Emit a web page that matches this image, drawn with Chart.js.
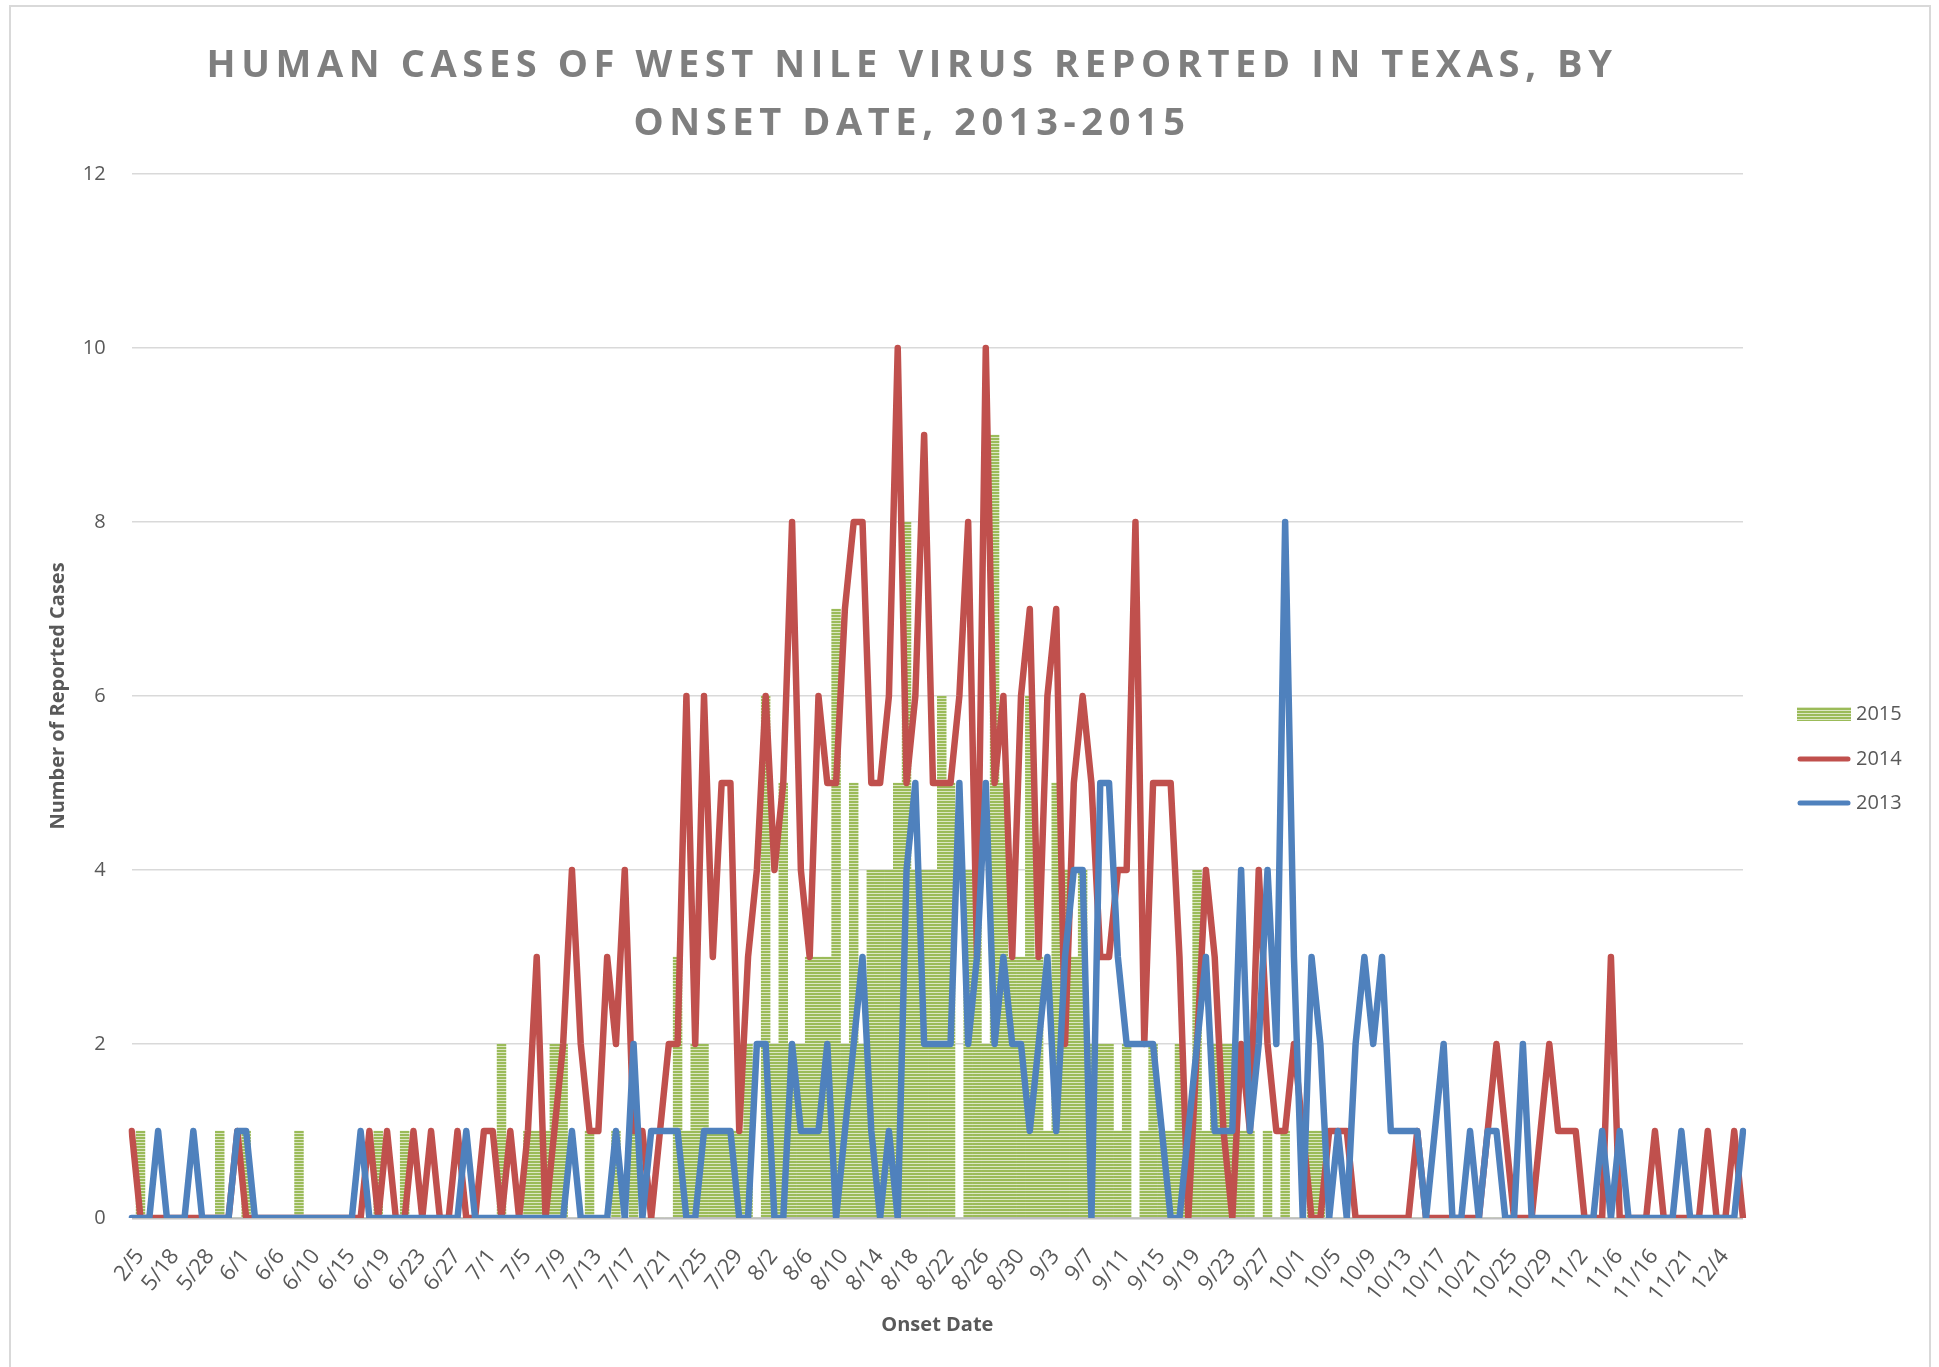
<!DOCTYPE html>
<html>
<head>
<meta charset="utf-8">
<script src="https://cdn.jsdelivr.net/npm/chart.js@4.4.1/dist/chart.umd.min.js"></script>
<style>
html,body{margin:0;padding:0;background:#fff;overflow:hidden;}
#wrap{position:relative;width:1939px;height:1367px;}
#frame{position:absolute;left:9px;top:5px;width:1922px;height:1420px;border:2px solid #d9d9d9;box-sizing:border-box;}
canvas{position:absolute;left:0;top:0;}
</style>
</head>
<body>
<div id="wrap"><div id="frame"></div><canvas id="chart" width="1939" height="1367"></canvas></div>
<script>
// ---------------- data ----------------
const categories = [
'2/5','4/22','5/6','5/12','5/18','5/20','5/23','5/26','5/28','5/29','5/30','5/31',
'6/1','6/2','6/3','6/5','6/6','6/7','6/8','6/9','6/10','6/11','6/12','6/14',
'6/15','6/16','6/17','6/18','6/19','6/20','6/21','6/22','6/23','6/24','6/25','6/26',
'6/27','6/28','6/29','6/30',
'7/1','7/2','7/3','7/4','7/5','7/6','7/7','7/8','7/9','7/10','7/11','7/12','7/13','7/14','7/15','7/16',
'7/17','7/18','7/19','7/20','7/21','7/22','7/23','7/24','7/25','7/26','7/27','7/28','7/29','7/30','7/31',
'8/1','8/2','8/3','8/4','8/5','8/6','8/7','8/8','8/9','8/10','8/11','8/12','8/13','8/14','8/15','8/16',
'8/17','8/18','8/19','8/20','8/21','8/22','8/23','8/24','8/25','8/26','8/27','8/28','8/29','8/30','8/31',
'9/1','9/2','9/3','9/4','9/5','9/6','9/7','9/8','9/9','9/10','9/11','9/12','9/13','9/14','9/15',
'9/16','9/17','9/18','9/19','9/20','9/21','9/22','9/23','9/24','9/25','9/26','9/27','9/28','9/29','9/30',
'10/1','10/2','10/3','10/4','10/5','10/6','10/7','10/8','10/9','10/10','10/11','10/12','10/13','10/14','10/15','10/16',
'10/17','10/18','10/19','10/20','10/21','10/22','10/23','10/24','10/25','10/26','10/27','10/28','10/29','10/30','10/31',
'11/1','11/2','11/3','11/4','11/5','11/6','11/8','11/11','11/13',
'11/16','11/17','11/18','11/20','11/21','11/24','11/27','12/1','12/4','12/8','12/12','12/17'
];
const tickEvery = 4;
const yTickValues = [0, 2, 4, 6, 8, 10, 12];
const seriesNames = ['2015', '2014', '2013'];

const cases2015 = [
0,1,0,0,0,0,0,0,0,0,
1,0,0,1,0,0,0,0,0,1,
0,0,0,0,0,0,0,0,1,0,
0,1,0,0,0,0,0,0,0,0,
0,0,2,0,0,1,1,1,2,2,
0,0,1,0,0,1,0,1,0,0,
0,0,3,1,2,2,1,1,1,1,
2,0,6,2,5,2,2,3,3,3,
7,2,5,2,4,4,4,5,8,4,
4,4,6,5,0,4,4,2,9,5,
3,3,6,3,1,5,4,3,4,2,
2,2,1,2,0,1,2,1,1,2,
1,4,1,2,2,2,1,1,0,1,
0,1,0,0,1,1,0,0,0,0,
0,0,0,0,0,0,0,0,0,0,
0,0,0,0,0,0,0,0,0,0,
0,0,0,0,0,0,0,0,0,0,
0,0,0,0,0,0,0,0,0,0,
0,0,0,0
];
const cases2014 = [
1,0,0,0,0,0,0,0,0,0,
0,0,1,0,0,0,0,0,0,0,
0,0,0,0,0,0,0,1,0,1,
0,0,1,0,1,0,0,1,0,0,
1,1,0,1,0,1,3,0,1,2,
4,2,1,1,3,2,4,1,1,0,
1,2,2,6,2,6,3,5,5,1,
3,4,6,4,5,8,4,3,6,5,
5,7,8,8,5,5,6,10,5,6,
9,5,5,5,6,8,3,10,5,6,
3,6,7,3,6,7,2,5,6,5,
3,3,4,4,8,2,5,5,5,3,
0,2,4,3,1,0,2,1,4,2,
1,1,2,1,0,0,1,1,1,0,
0,0,0,0,0,0,1,0,0,0,
0,0,0,0,1,2,1,0,0,0,
1,2,1,1,1,0,0,0,3,0,
0,0,0,1,0,0,0,0,0,1,
0,0,1,0
];
const cases2013 = [
0,0,0,1,0,0,0,1,0,0,
0,0,1,1,0,0,0,0,0,0,
0,0,0,0,0,0,1,0,0,0,
0,0,0,0,0,0,0,0,1,0,
0,0,0,0,0,0,0,0,0,0,
1,0,0,0,0,1,0,2,0,1,
1,1,1,0,0,1,1,1,1,0,
0,2,2,0,0,2,1,1,1,2,
0,1,2,3,1,0,1,0,4,5,
2,2,2,2,5,2,3,5,2,3,
2,2,1,2,3,1,3,4,4,0,
5,5,3,2,2,2,2,1,0,0,
1,2,3,1,1,1,4,1,2,4,
2,8,3,0,3,2,0,1,0,2,
3,2,3,1,1,1,1,0,1,2,
0,0,1,0,1,1,0,0,2,0,
0,0,0,0,0,0,0,1,0,1,
0,0,0,0,0,0,1,0,0,0,
0,0,0,1
];

const chartTitle = ['HUMAN CASES OF WEST NILE VIRUS REPORTED IN TEXAS, BY', 'ONSET DATE, 2013-2015'];
const xAxisTitle = 'Onset Date';
const yAxisTitle = 'Number of Reported Cases';

// ---------------- styling helpers ----------------
Chart.defaults.font.family = "'Open Sans', 'DejaVu Sans', sans-serif";
Chart.defaults.color = '#595959';

const canvas = document.getElementById('chart');
const ctx = canvas.getContext('2d');

function stripePattern(c) {
  const p = document.createElement('canvas');
  p.width = 4; p.height = 3;
  const pc = p.getContext('2d');
  pc.fillStyle = '#9BBB59'; pc.fillRect(0, 0, 4, 2);
  pc.fillStyle = '#DCE7C4'; pc.fillRect(0, 2, 4, 1);
  return c.createPattern(p, 'repeat');
}
const greenFill = stripePattern(ctx);

const titleAndLegend = {
  id: 'titleAndLegend',
  afterLayout(chart) {
    const tb = chart.titleBlock;
    if (tb) {
      tb.left = 0; tb.right = 1824;
      if (!tb.__spaced) {
        const orig = tb.draw;
        tb.draw = function (area) {
          const c = this.ctx;
          c.save();
          c.letterSpacing = '5.6px';
          orig.call(this, area);
          c.restore();
        };
        tb.__spaced = true;
      }
    }
  },
  afterDraw(chart) {
    const c = chart.ctx;
    const ds = chart.data.datasets;
    const x0 = 1797, w = 54, rows = [714, 759, 803];
    c.save();
    c.font = "20px 'Open Sans'";
    c.textBaseline = 'middle';
    ds.forEach((d, k) => {
      const y = rows[k];
      if (d.type === 'bar') {
        c.fillStyle = d.backgroundColor;
        c.fillRect(x0, y - 7, w, 14);
      } else {
        c.strokeStyle = d.borderColor;
        c.lineWidth = 5;
        c.lineCap = 'round';
        c.beginPath();
        c.moveTo(x0 + 3, y);
        c.lineTo(x0 + w - 3, y);
        c.stroke();
      }
      c.fillStyle = '#595959';
      c.fillText(d.label, x0 + w + 5, y);
    });
    c.restore();
  }
};

new Chart(ctx, {
  type: 'bar',
  data: {
    labels: categories,
    datasets: [
      { type: 'bar', label: seriesNames[0], data: cases2015, backgroundColor: greenFill,
        borderWidth: 0, barPercentage: 1, categoryPercentage: 1, order: 3 },
      { type: 'line', label: seriesNames[1], data: cases2014, borderColor: '#C0504D',
        backgroundColor: '#C0504D', borderWidth: 6.5, pointRadius: 0, tension: 0, fill: false,
        borderJoinStyle: 'round', borderCapStyle: 'round', order: 2 },
      { type: 'line', label: seriesNames[2], data: cases2013, borderColor: '#4F81BD',
        backgroundColor: '#4F81BD', borderWidth: 6.5, pointRadius: 0, tension: 0, fill: false,
        borderJoinStyle: 'round', borderCapStyle: 'round', order: 1 }
    ]
  },
  options: {
    responsive: false,
    animation: false,
    events: [],
    layout: { padding: { left: 44, right: 196, top: 0, bottom: 20 } },
    plugins: {
      legend: { display: false },
      tooltip: { enabled: false },
      title: {
        display: true, text: chartTitle, color: '#7F7F7F',
        font: { size: 38, weight: 'bold', lineHeight: 1.526 },
        padding: { top: 37, bottom: 21 }
      }
    },
    scales: {
      x: {
        type: 'category',
        offset: false,
        grid: { display: false, drawTicks: false },
        border: { display: false },
        ticks: {
          autoSkip: false, minRotation: 52, maxRotation: 52, padding: 26, labelOffset: 8,
          font: { size: 22 }, color: '#595959',
          callback: (v, i) => (i % tickEvery === 0 ? categories[i] : '')
        },
        title: { display: true, text: xAxisTitle, color: '#595959',
          font: { size: 20, weight: 'bold' }, padding: { top: 4, bottom: 10 } },
        afterFit: s => { s.height = 129; }
      },
      y: {
        min: 0, max: 12,
        afterBuildTicks: s => { s.ticks = yTickValues.map(v => ({ value: v })); },
        ticks: { padding: 26, font: { size: 20 }, color: '#595959' },
        grid: {
          drawTicks: false,
          color: c => (c.tick && c.tick.value === 0 ? '#BFBFBF' : '#D9D9D9'),
          lineWidth: c => (c.tick && c.tick.value === 0 ? 2.5 : 1.5)
        },
        border: { display: false },
        title: { display: true, text: yAxisTitle, color: '#595959',
          font: { size: 20, weight: 'bold' }, padding: { top: 2, bottom: 4 } },
        afterFit: s => { s.width = 87.7; }
      }
    }
  },
  plugins: [titleAndLegend]
});
</script>
</body>
</html>
